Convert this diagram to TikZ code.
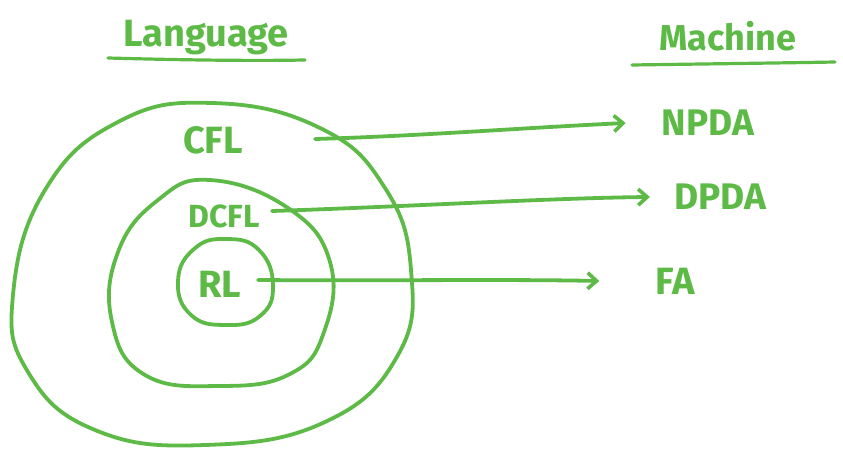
\documentclass[tikz,border=0pt]{standalone}
\usepackage{fontspec}
\setmainfont{Fira Sans}
\usetikzlibrary{arrows.meta}
\definecolor{pen}{HTML}{5DBA47}
\tikzset{
  ink/.style={draw=pen, line width=3.8pt, line cap=round, line join=round},
  arr/.style={ink, -{Straight Barb[length=9pt,width=16pt,line width=3.6pt]}},
  lbl/.style={text=pen, font=\fontsize{#1}{#1}\selectfont\bfseries, inner sep=0pt},
  lbl/.default=34
}
\begin{document}
\begin{tikzpicture}[x=1pt,y=-1pt]
\useasboundingbox (0,0) rectangle (843,462);

% headings with underlines
\node[lbl=38] (lang) at (206,38) {Language};
\node[lbl=36] (mach) at (728,36) {Machine};
\draw[ink, line width=3.2pt] (108,58) .. controls (180,60) and (250,61) .. (305,60);
\draw[ink, line width=3.2pt] (632,65) .. controls (700,64) and (780,63) .. (835,62);

% nested language classes
\draw[ink] plot[smooth cycle, tension=0.75] coordinates {
  (212,103) (320,128) (385,188) (411,270) (398,355) (325,422)
  (205,445) (95,430) (28,372) (13,295) (45,190) (118,122)};
\draw[ink] plot[smooth cycle, tension=0.75] coordinates {
  (210,180) (288,208) (330,262) (324,332) (290,374) (220,386)
  (145,375) (112,322) (118,252) (158,200)};
\draw[ink] plot[smooth cycle, tension=0.8] coordinates {
  (226,239) (259,250) (273,286) (260,316) (226,325) (191,315)
  (178,281) (194,249)};

% class labels
\node[lbl=38] (cfl) at (213,140) {CFL};
\node[lbl=32] (dcfl) at (224,216) {DCFL};
\node[lbl=38] (rl) at (220,284) {RL};

% machine labels
\node[lbl=37] (npda) at (708,123) {NPDA};
\node[lbl=37] (dpda) at (720,197) {DPDA};
\node[lbl=38] (fa) at (675,281) {FA};

% tails of the connectors
\coordinate (cflT) at (315,139);
\coordinate (dcflT) at (272,211);
\coordinate (rlT) at (258,280);

\draw[arr] (cflT) .. controls (420,136) and (520,128) .. ([xshift=-36pt]npda.west);
\draw[arr] (dcflT) .. controls (400,207) and (550,198) .. ([xshift=-24pt]dpda.west);
\draw[arr] (rlT) .. controls (380,281) and (500,279) .. ([xshift=-56pt]fa.west);
\end{tikzpicture}
\end{document}
